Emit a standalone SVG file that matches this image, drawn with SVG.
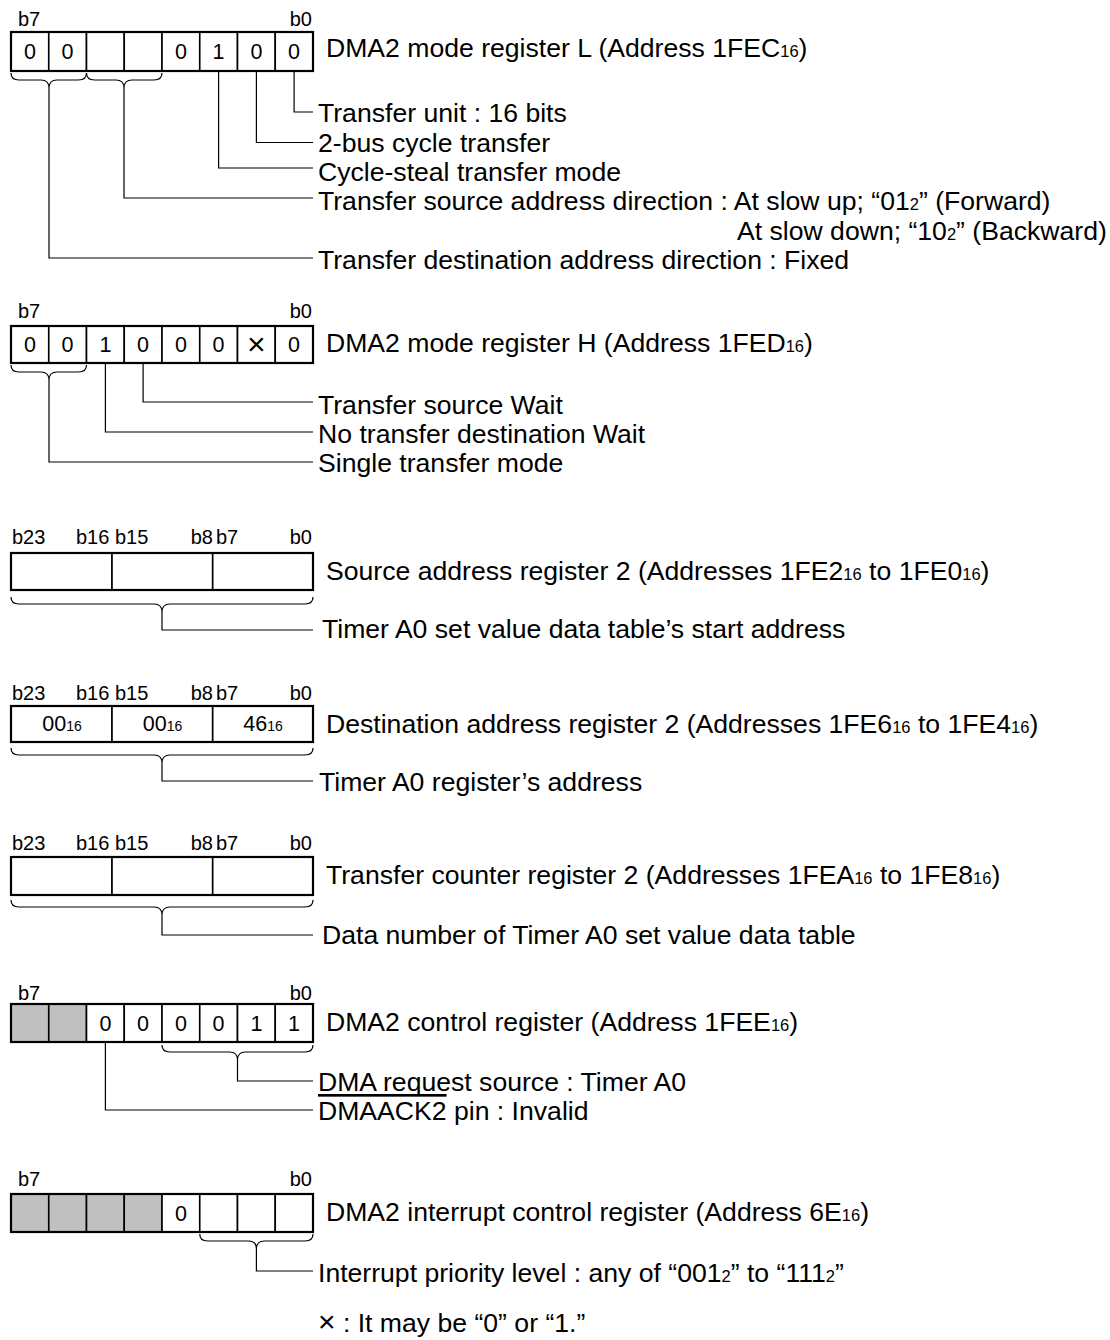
<svg xmlns="http://www.w3.org/2000/svg" width="1110" height="1340" viewBox="0 0 1110 1340">
<style>
text{font-family:"Liberation Sans",Arial,Helvetica,sans-serif;fill:#000}
.bl{font-size:20px}
.be{font-size:20px;text-anchor:end}
.dg{font-size:21.5px;text-anchor:middle}
.x{font-size:32px;text-anchor:middle}
.xx{font-size:30px}
.t{font-size:26.6px}
.s{font-size:16.5px}
.s2{font-size:14px}
.c{fill:#fff;stroke:#000;stroke-width:1.6}
.g{fill:#c0c0c0;stroke:#000;stroke-width:1.6}
.fr{fill:none;stroke:#000;stroke-width:2.2}
.ln{fill:none;stroke:#000;stroke-width:1.2}
</style>
<rect width="1110" height="1340" fill="#fff"/>

<g id="reg-mode-L">
<text class="bl" x="18" y="26">b7</text><text class="be" x="312" y="26">b0</text>
<rect class="c" x="11" y="32" width="37.75" height="39"/><rect class="c" x="48.75" y="32" width="37.75" height="39"/><rect class="c" x="86.5" y="32" width="37.75" height="39"/><rect class="c" x="124.25" y="32" width="37.75" height="39"/><rect class="c" x="162" y="32" width="37.75" height="39"/><rect class="c" x="199.75" y="32" width="37.75" height="39"/><rect class="c" x="237.5" y="32" width="37.75" height="39"/><rect class="c" x="275.25" y="32" width="37.75" height="39"/>
<rect class="fr" x="11" y="32" width="302" height="39"/>
<text class="dg" x="29.9" y="59">0</text><text class="dg" x="67.6" y="59">0</text><text class="dg" x="180.9" y="59">0</text><text class="dg" x="218.6" y="59">1</text><text class="dg" x="256.4" y="59">0</text><text class="dg" x="294.1" y="59">0</text>
<text class="t" x="326" y="57">DMA2 mode register L (Address 1FEC<tspan class="s">16</tspan>)</text>
<text class="t" x="318" y="121.5">Transfer unit : 16 bits</text>
<text class="t" x="318" y="151.5">2-bus cycle transfer</text>
<text class="t" x="318" y="181">Cycle-steal transfer mode</text>
<text class="t" x="318" y="210">Transfer source address direction : At slow up; “01<tspan class="s">2</tspan>” (Forward)</text>
<text class="t" x="737" y="239.5">At slow down; “10<tspan class="s">2</tspan>” (Backward)</text>
<text class="t" x="318" y="268.5">Transfer destination address direction : Fixed</text>
</g>

<g id="reg-mode-H">
<text class="bl" x="18" y="318">b7</text><text class="be" x="312" y="318">b0</text>
<rect class="c" x="11" y="326" width="37.75" height="37"/><rect class="c" x="48.75" y="326" width="37.75" height="37"/><rect class="c" x="86.5" y="326" width="37.75" height="37"/><rect class="c" x="124.25" y="326" width="37.75" height="37"/><rect class="c" x="162" y="326" width="37.75" height="37"/><rect class="c" x="199.75" y="326" width="37.75" height="37"/><rect class="c" x="237.5" y="326" width="37.75" height="37"/><rect class="c" x="275.25" y="326" width="37.75" height="37"/>
<rect class="fr" x="11" y="326" width="302" height="37"/>
<text class="dg" x="29.9" y="352">0</text><text class="dg" x="67.6" y="352">0</text><text class="dg" x="105.4" y="352">1</text><text class="dg" x="143.1" y="352">0</text><text class="dg" x="180.9" y="352">0</text><text class="dg" x="218.6" y="352">0</text><text class="x" x="256.4" y="355">×</text><text class="dg" x="294.1" y="352">0</text>
<text class="t" x="326" y="352">DMA2 mode register H (Address 1FED<tspan class="s">16</tspan>)</text>
<text class="t" x="318" y="413.5">Transfer source Wait</text>
<text class="t" x="318" y="443">No transfer destination Wait</text>
<text class="t" x="318" y="472">Single transfer mode</text>
</g>

<g id="reg-source">
<text class="bl" x="12" y="544">b23</text><text class="bl" x="76" y="544">b16</text><text class="bl" x="115" y="544">b15</text><text class="be" x="213" y="544">b8</text><text class="bl" x="216" y="544">b7</text><text class="be" x="312" y="544">b0</text>
<rect class="c" x="11" y="553" width="101" height="37"/><rect class="c" x="112" y="553" width="100.7" height="37"/><rect class="c" x="212.7" y="553" width="100.3" height="37"/>
<rect class="fr" x="11" y="553" width="302" height="37"/>
<text class="t" x="326" y="580">Source address register 2 (Addresses 1FE2<tspan class="s">16</tspan> to 1FE0<tspan class="s">16</tspan>)</text>
<text class="t" x="322" y="638">Timer A0 set value data table’s start address</text>
</g>

<g id="reg-dest">
<text class="bl" x="12" y="700">b23</text><text class="bl" x="76" y="700">b16</text><text class="bl" x="115" y="700">b15</text><text class="be" x="213" y="700">b8</text><text class="bl" x="216" y="700">b7</text><text class="be" x="312" y="700">b0</text>
<rect class="c" x="11" y="706" width="101" height="36"/><rect class="c" x="112" y="706" width="100.7" height="36"/><rect class="c" x="212.7" y="706" width="100.3" height="36"/>
<rect class="fr" x="11" y="706" width="302" height="36"/>
<text class="dg" x="62" y="731">00<tspan class="s2">16</tspan></text><text class="dg" x="162.5" y="731">00<tspan class="s2">16</tspan></text><text class="dg" x="263" y="731">46<tspan class="s2">16</tspan></text>
<text class="t" x="326" y="733">Destination address register 2 (Addresses 1FE6<tspan class="s">16</tspan> to 1FE4<tspan class="s">16</tspan>)</text>
<text class="t" x="319" y="791">Timer A0 register’s address</text>
</g>

<g id="reg-counter">
<text class="bl" x="12" y="850">b23</text><text class="bl" x="76" y="850">b16</text><text class="bl" x="115" y="850">b15</text><text class="be" x="213" y="850">b8</text><text class="bl" x="216" y="850">b7</text><text class="be" x="312" y="850">b0</text>
<rect class="c" x="11" y="857" width="101" height="38"/><rect class="c" x="112" y="857" width="100.7" height="38"/><rect class="c" x="212.7" y="857" width="100.3" height="38"/>
<rect class="fr" x="11" y="857" width="302" height="38"/>
<text class="t" x="326" y="884">Transfer counter register 2 (Addresses 1FEA<tspan class="s">16</tspan> to 1FE8<tspan class="s">16</tspan>)</text>
<text class="t" x="322" y="944">Data number of Timer A0 set value data table</text>
</g>

<g id="reg-control">
<text class="bl" x="18" y="1000">b7</text><text class="be" x="312" y="1000">b0</text>
<rect class="g" x="11" y="1004" width="37.75" height="38"/><rect class="g" x="48.75" y="1004" width="37.75" height="38"/><rect class="c" x="86.5" y="1004" width="37.75" height="38"/><rect class="c" x="124.25" y="1004" width="37.75" height="38"/><rect class="c" x="162" y="1004" width="37.75" height="38"/><rect class="c" x="199.75" y="1004" width="37.75" height="38"/><rect class="c" x="237.5" y="1004" width="37.75" height="38"/><rect class="c" x="275.25" y="1004" width="37.75" height="38"/>
<rect class="fr" x="11" y="1004" width="302" height="38"/>
<text class="dg" x="105.4" y="1030.5">0</text><text class="dg" x="143.1" y="1030.5">0</text><text class="dg" x="180.9" y="1030.5">0</text><text class="dg" x="218.6" y="1030.5">0</text><text class="dg" x="256.4" y="1030.5">1</text><text class="dg" x="294.1" y="1030.5">1</text>
<text class="t" x="326" y="1031">DMA2 control register (Address 1FEE<tspan class="s">16</tspan>)</text>
<text class="t" x="318" y="1091">DMA request source : Timer A0</text>
<text class="t" x="318" y="1120"><tspan text-decoration="overline">DMAACK2</tspan> pin : Invalid</text>
</g>

<g id="reg-interrupt">
<text class="bl" x="18" y="1186">b7</text><text class="be" x="312" y="1186">b0</text>
<rect class="g" x="11" y="1194" width="37.75" height="38"/><rect class="g" x="48.75" y="1194" width="37.75" height="38"/><rect class="g" x="86.5" y="1194" width="37.75" height="38"/><rect class="g" x="124.25" y="1194" width="37.75" height="38"/><rect class="c" x="162" y="1194" width="37.75" height="38"/><rect class="c" x="199.75" y="1194" width="37.75" height="38"/><rect class="c" x="237.5" y="1194" width="37.75" height="38"/><rect class="c" x="275.25" y="1194" width="37.75" height="38"/>
<rect class="fr" x="11" y="1194" width="302" height="38"/>
<text class="dg" x="180.9" y="1220.5">0</text>
<text class="t" x="326" y="1221">DMA2 interrupt control register (Address 6E<tspan class="s">16</tspan>)</text>
<text class="t" x="318" y="1282">Interrupt priority level : any of “001<tspan class="s">2</tspan>” to “111<tspan class="s">2</tspan>”</text>
<text class="t" x="318" y="1332"><tspan class="xx">×</tspan> : It may be “0” or “1.”</text>
</g>

<g id="connectors" class="ln">
<path d="M11,73 Q11,80 19,80 L41,80 Q49,80 49,88 Q49,80 57,80 L78.5,80 Q86.5,80 86.5,73"/>
<path d="M86.5,73 Q86.5,80 94.5,80 L116,80 Q124,80 124,88 Q124,80 132,80 L154,80 Q162,80 162,73"/>
<path d="M294.1,71 V112 H313"/>
<path d="M256.4,71 V142.5 H313"/>
<path d="M218.6,71 V168 H313"/>
<path d="M124,88 V198 H313"/>
<path d="M49,88 V258 H313"/>

<path d="M11,365 Q11,372 19,372 L41,372 Q49,372 49,380 Q49,372 57,372 L78.5,372 Q86.5,372 86.5,365"/>
<path d="M143.1,363 V402 H313"/>
<path d="M105.4,363 V432 H313"/>
<path d="M49,380 V462 H313"/>

<path d="M11,597 Q11,604 19,604 L154,604 Q162,604 162,612 Q162,604 170,604 L305,604 Q313,604 313,597"/>
<path d="M162,612 V630 H313"/>

<path d="M11,748 Q11,755 19,755 L154,755 Q162,755 162,763 Q162,755 170,755 L305,755 Q313,755 313,748"/>
<path d="M162,763 V781 H313"/>

<path d="M11,900 Q11,907 19,907 L154,907 Q162,907 162,915 Q162,907 170,907 L305,907 Q313,907 313,900"/>
<path d="M162,915 V935 H313"/>

<path d="M162,1045 Q162,1052 170,1052 L229.5,1052 Q237.5,1052 237.5,1060 Q237.5,1052 245.5,1052 L305,1052 Q313,1052 313,1045"/>
<path d="M237.5,1060 V1081 H313"/>
<path d="M105.4,1042 V1110 H313"/>

<path d="M199.75,1234 Q199.75,1241 207.75,1241 L248.4,1241 Q256.4,1241 256.4,1249 Q256.4,1241 264.4,1241 L305,1241 Q313,1241 313,1234"/>
<path d="M256.4,1249 V1271 H313"/>
</g>
</svg>
